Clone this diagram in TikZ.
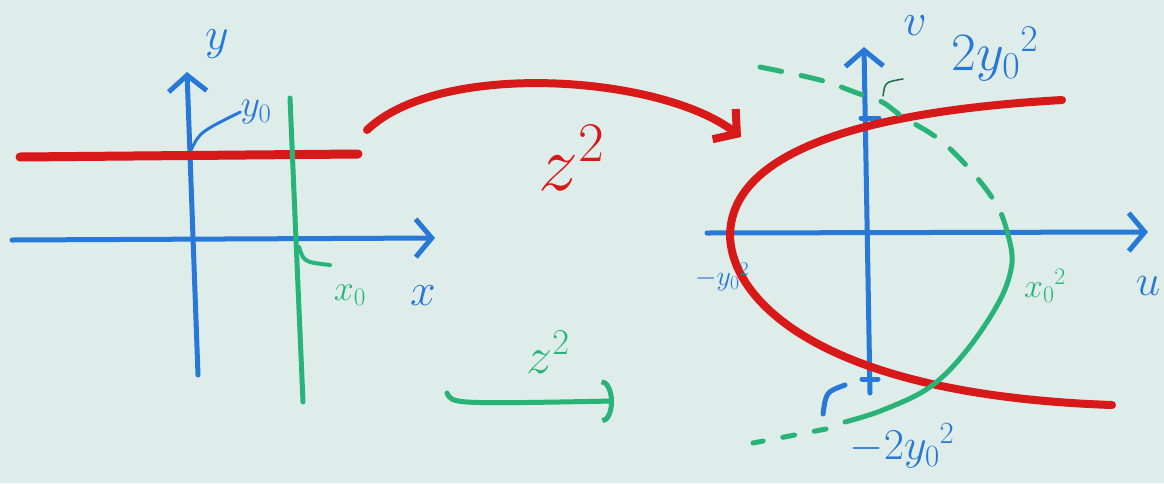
\RequirePackage{fix-cm}
\documentclass[tikz,border=0pt]{standalone}
\usetikzlibrary{arrows.meta}
\definecolor{board}{RGB}{222,237,234}
\definecolor{mblue}{RGB}{40,120,215}
\definecolor{mred}{RGB}{215,25,25}
\definecolor{mgreen}{RGB}{40,180,120}
\begin{document}
\begin{tikzpicture}[x=1pt,y=-1pt,line cap=round,line join=round,
  bluepen/.style={draw=mblue,line width=5pt},
  redpen/.style={draw=mred,line width=8pt},
  greenpen/.style={draw=mgreen,line width=5pt},
  greendash/.style={greenpen,dash pattern=on 22pt off 20pt},
  barb/.style={-{Straight Barb[length=16pt,width=38pt]}},
  arcbarb/.style={-{Arc Barb[length=12pt,width=44pt]}},
  lab/.style={inner sep=0pt,font=\fontsize{#1}{#1}\selectfont},
  bluelab/.style={lab=#1,text=mblue},
  redlab/.style={lab=#1,text=mred},
  greenlab/.style={lab=#1,text=mgreen}]
\fill[board] (0,0) rectangle (1164,483);
\useasboundingbox (0,0) rectangle (1164,483);

% ---------- left plane ----------
\coordinate (xa0) at (12,240);
\coordinate (xa1) at (435,238);
\coordinate (ya0) at (198,375);
\coordinate (ya1) at (187,72);
\coordinate (rl0) at (20,157);
\coordinate (rl1) at (358,154);
\coordinate (gl0) at (290,98);
\coordinate (gl1) at (303,402);
\draw[bluepen,barb] (xa0) -- (xa1);
\draw[bluepen,barb] (ya0) -- (ya1);
\draw[redpen,line width=9pt] (rl0) -- (rl1);
\draw[greenpen] (gl0) .. controls (296,240) .. (gl1);

\node[bluelab=46] (ylab) at (217,44) {$y$};
\node[bluelab=38] (y0lab) at (256,112) {$y_0$};
\node[greenlab=36] (x0lab) at (350,295) {$x_0$};
\node[bluelab=46] (xlab) at (423,296) {$x$};
\coordinate (y0pt) at (191,150);
\coordinate (x0pt) at (299,247);
\draw[mblue,line width=3pt] (y0pt) .. controls (200,132) .. (y0lab.west);
\draw[mgreen,line width=4pt] (x0pt) .. controls (304,262) .. (330,265);

% ---------- mapping arrows ----------
\coordinate (ra0) at (367,130);
\coordinate (ra1) at (741,137);
\draw[redpen,barb] (ra0) .. controls (440,60) and (660,75) .. (ra1);
\node[redlab=80] (zred) at (572,158) {$z^2$};

\coordinate (ga0) at (447,393);
\coordinate (ga1) at (614,401);
\draw[greenpen,arcbarb] (ga0) .. controls (452,404) .. (ga1);
\node[greenlab=52] (zgreen) at (548,352) {$z^2$};

% ---------- right plane ----------
\coordinate (ua0) at (707,233);
\coordinate (ua1) at (1148,232);
\coordinate (va0) at (870,393);
\coordinate (va1) at (864,47);
\draw[bluepen,barb] (ua0) -- (ua1);
\draw[bluepen,barb] (va0) -- (va1);
\draw[bluepen] (861,118) -- (879,118);
\draw[bluepen] (862,379) -- (878,379);

\coordinate (pv) at (730,235);
\coordinate (pu) at (1062,100);
\coordinate (pl) at (1112,405);
\draw[redpen] (pu) .. controls (800,115) and (731,175) .. (pv)
                    .. controls (731,300) and (820,395) .. (pl);

\draw[greendash] plot[smooth,tension=0.6] coordinates {(760,67) (820,80) (857,93) (882,102) (903,117) (940,140) (973,173) (998,207) (1008,235)};
\draw[greenpen] plot[smooth,tension=0.6] coordinates {(1008,235) (1012,263) (1000,300) (967,350) (930,387) (883,410) (845,422)};
\draw[greenpen,dash pattern=on 12pt off 20pt] (826,429) -- (753,443);
\draw[mgreen!60!black,line width=1.5pt] (883,96) .. controls (885,82) .. (903,79);

\node[bluelab=46] (vlab) at (915,26) {$v$};
\node[bluelab=54] (v2lab) at (995,54) {$2{y_0}^2$};
\node[bluelab=44] (ulab) at (1148,286) {$u$};
\node[greenlab=34] (x02lab) at (1045,286) {${x_0}^2$};
\node[bluelab=28] (my0lab) at (722,277) {$-{y_0}^2$};
\node[bluelab=44] (m2y0lab) at (902,446) {$-2{y_0}^2$};
\draw[bluepen] (845,385) .. controls (826,392) .. (823,414);
\end{tikzpicture}
\end{document}
